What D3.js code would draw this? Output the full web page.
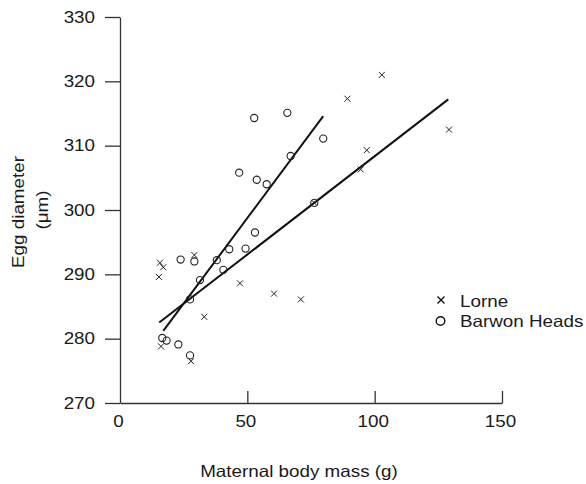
<!DOCTYPE html>
<html>
<head>
<meta charset="utf-8">
<script src="https://cdn.jsdelivr.net/npm/d3@7"></script>
<style>
  body { margin: 0; background: #fff; }
  text { font-family: "Liberation Sans", Arial, sans-serif; fill: #1a1a1a; }
</style>
</head>
<body>
<div id="chart"></div>
<script>
// Lorne (crosses)
var lorneMass = [15.3, 15.7, 17.0, 16.1, 27.9, 29.2, 33.1, 47.1, 60.5, 71.0, 76.3, 89.3, 94.5, 96.9, 102.8, 129.2];
var lorneEgg  = [289.6, 291.8, 291.1, 278.8, 276.5, 293.0, 283.4, 288.6, 287.0, 286.1, 301.1, 317.3, 306.3, 309.3, 321.0, 312.5];

// Barwon Heads (circles)
var barwonMass = [16.6, 18.3, 22.9, 27.5, 27.5, 31.4, 23.8, 29.2, 38.0, 40.6, 42.9, 49.3, 53.0, 46.8, 53.7, 57.6, 67.0, 52.7, 65.7, 76.3, 79.8];
var barwonEgg  = [280.1, 279.7, 279.1, 277.4, 286.1, 289.1, 292.3, 292.0, 292.2, 290.7, 293.9, 294.0, 296.5, 305.8, 304.7, 304.0, 308.4, 314.3, 315.1, 301.1, 311.1];

// fitted lines (end points)
var lorneFitX  = [15.4, 128.9];
var lorneFitY  = [282.5, 317.2];
var barwonFitX = [17.0, 79.8];
var barwonFitY = [281.2, 314.6];

var xTicks = [0, 50, 100, 150];
var yTicks = [270, 280, 290, 300, 310, 320, 330];

var width = 586, height = 484;
var stretchK = 1.14;   // the scanned type is a bit wider than Arial

var svg = d3.select("#chart").append("svg")
    .attr("width", width)
    .attr("height", height);

var x = d3.scaleLinear().domain([0, 150]).range([120, 502]);
var y = d3.scaleLinear().domain([270, 330]).range([403, 17]);

// axes
var xAxis = svg.append("g")
    .attr("transform", "translate(0," + y(270) + ")")
    .call(d3.axisBottom(x).tickValues(xTicks).tickSize(-12).tickSizeOuter(0).tickPadding(12));

var yAxis = svg.append("g")
    .attr("transform", "translate(" + x(0) + ",0)")
    .call(d3.axisLeft(y).tickValues(yTicks).tickSize(15).tickSizeOuter(0).tickPadding(10));

[xAxis, yAxis].forEach(function(a) {
  a.selectAll("path, line").attr("stroke", "#333").attr("stroke-width", 1.3);
  a.selectAll("text").style("font-size", "16.5px").attr("fill", "#1a1a1a")
    .style("font-family", "'Liberation Sans', Arial, sans-serif");
});
xAxis.selectAll("text").attr("x", -2);
// 0 tick sits on the y axis
xAxis.selectAll(".tick").filter(function(d) { return d === 0; }).select("line").remove();

// fitted lines
var line = d3.line()
    .x(function(d) { return x(d[0]); })
    .y(function(d) { return y(d[1]); });

[[lorneFitX, lorneFitY], [barwonFitX, barwonFitY]].forEach(function(f) {
  svg.append("path")
      .datum(d3.zip(f[0], f[1]))
      .attr("d", line)
      .attr("fill", "none")
      .attr("stroke", "#111")
      .attr("stroke-width", 2);
});

// circles
svg.append("g").selectAll("circle")
    .data(d3.zip(barwonMass, barwonEgg))
  .enter().append("circle")
    .attr("cx", function(d) { return x(d[0]); })
    .attr("cy", function(d) { return y(d[1]); })
    .attr("r", 3.6)
    .attr("fill", "none")
    .attr("stroke", "#222")
    .attr("stroke-width", 1.1);

// crosses
var cross = function(s) { return "M" + (-s) + "," + (-s) + "L" + s + "," + s + "M" + (-s) + "," + s + "L" + s + "," + (-s); };

svg.append("g").selectAll("path")
    .data(d3.zip(lorneMass, lorneEgg))
  .enter().append("path")
    .attr("transform", function(d) { return "translate(" + x(d[0]) + "," + y(d[1]) + ")"; })
    .attr("d", cross(3))
    .attr("fill", "none")
    .attr("stroke", "#222")
    .attr("stroke-width", 1);

// axis titles
svg.append("text")
    .attr("x", 299)
    .attr("y", 477)
    .attr("text-anchor", "middle")
    .style("font-size", "16.5px")
    .text("Maternal body mass (g)");

svg.append("text")
    .attr("transform", "translate(24,212) rotate(-90)")
    .attr("text-anchor", "middle")
    .style("font-size", "16.5px")
    .text("Egg diameter");

svg.append("text")
    .attr("transform", "translate(48,210) rotate(-90)")
    .attr("text-anchor", "middle")
    .style("font-size", "16.5px")
    .text("(\u03bcm)");

// legend
var legend = svg.append("g");
legend.append("path")
    .attr("transform", "translate(441,300)")
    .attr("d", cross(3.5))
    .attr("stroke", "#111")
    .attr("stroke-width", 1.4);
legend.append("text")
    .attr("x", 460).attr("y", 306.5)
    .style("font-size", "16.5px")
    .text("Lorne");
legend.append("circle")
    .attr("cx", 440.5).attr("cy", 321)
    .attr("r", 4.3)
    .attr("fill", "none")
    .attr("stroke", "#111")
    .attr("stroke-width", 1.4);
legend.append("text")
    .attr("x", 460).attr("y", 327)
    .style("font-size", "16.5px")
    .text("Barwon Heads");

// widen all text a little to match the scan
svg.selectAll("text").each(function() {
  var w = this.getComputedTextLength();
  d3.select(this)
      .attr("textLength", w * stretchK)
      .attr("lengthAdjust", "spacingAndGlyphs");
});
</script>
</body>
</html>
